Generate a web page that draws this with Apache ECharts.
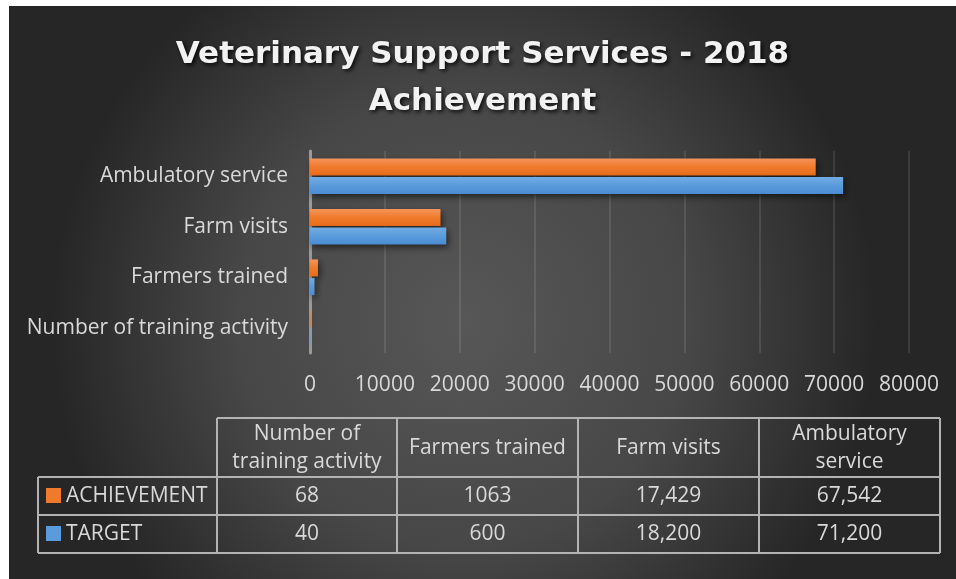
<!DOCTYPE html>
<html>
<head>
<meta charset="utf-8">
<script src="https://cdn.jsdelivr.net/npm/echarts@6/dist/echarts.min.js"></script>
<style>
html,body{margin:0;padding:0;background:#ffffff;width:956px;height:579px;overflow:hidden;}
#chart{position:absolute;left:9px;top:6px;width:947px;height:573px;}
</style>
</head>
<body>
<div id="chart"></div>
<script>
// ---- data ----
var categories = ['Number of training activity', 'Farmers trained', 'Farm visits', 'Ambulatory service'];
var tableHeaders = ['Number of\ntraining activity', 'Farmers trained', 'Farm visits', 'Ambulatory\nservice'];
var achievement = [68, 1063, 17429, 67542];
var target = [40, 600, 18200, 71200];
var seriesNames = ['ACHIEVEMENT', 'TARGET'];
var xTicks = [0, 10000, 20000, 30000, 40000, 50000, 60000, 70000, 80000];

// ---- styles ----
var FONT = 'Open Sans';
var TXT = '#d9d9d9';
var LINE = '#b3b3b3';
var ORANGE = { type: 'linear', x: 0, y: 0, x2: 0, y2: 1, colorStops: [{ offset: 0, color: '#f5955a' }, { offset: 0.5, color: '#f07a2b' }, { offset: 1, color: '#e86d1c' }] };
var BLUE = { type: 'linear', x: 0, y: 0, x2: 0, y2: 1, colorStops: [{ offset: 0, color: '#72abe2' }, { offset: 0.5, color: '#5a9bdb' }, { offset: 1, color: '#4a8cd3' }] };

function fmt(v) {
  return v >= 10000 ? v.toLocaleString('en-US') : String(v);
}

// table layout (container coords; container is offset by 9,6)
var colX = [29, 208, 388, 569, 750, 931];
var rowY = [412, 471, 509, 547];

var graphics = [];
function line(x1, y1, x2, y2) {
  graphics.push({ type: 'line', shape: { x1: x1, y1: y1, x2: x2, y2: y2 }, style: { stroke: LINE, lineWidth: 2 }, silent: true });
}
// horizontal lines
line(colX[1], rowY[0], colX[5], rowY[0]);
line(colX[0], rowY[1], colX[5], rowY[1]);
line(colX[0], rowY[2], colX[5], rowY[2]);
line(colX[0], rowY[3], colX[5], rowY[3]);
// vertical lines
line(colX[0], rowY[1], colX[0], rowY[3]);
for (var i = 1; i < colX.length; i++) line(colX[i], rowY[0], colX[i], rowY[3]);

function text(x, y, s, align) {
  graphics.push({ type: 'text', x: x, y: y, silent: true, style: { text: s, fill: TXT, font: '21px "' + FONT + '"', textAlign: align || 'center', textVerticalAlign: 'middle', lineHeight: 28 } });
}
for (var c = 0; c < 4; c++) {
  var cx = (colX[c + 1] + colX[c + 2]) / 2;
  text(cx, (rowY[0] + rowY[1]) / 2 + 1, tableHeaders[c]);
  text(cx, (rowY[1] + rowY[2]) / 2, fmt(achievement[c]));
  text(cx, (rowY[2] + rowY[3]) / 2, fmt(target[c]));
}
var keyColors = ['#f07a2b', '#5a9bdb'];
for (var r = 0; r < 2; r++) {
  var yc = (rowY[r + 1] + rowY[r + 2]) / 2;
  graphics.push({ type: 'rect', shape: { x: 37, y: yc - 8, width: 15, height: 15 }, style: { fill: keyColors[r] }, silent: true });
  text(57, yc, seriesNames[r], 'left');
}

var chart = echarts.init(document.getElementById('chart'), null, { renderer: 'canvas' });
chart.setOption({
  backgroundColor: { type: 'radial', x: 0.48, y: 0.55, r: 0.72, colorStops: [{ offset: 0, color: '#575757' }, { offset: 0.55, color: '#474747' }, { offset: 1, color: '#262626' }] },
  animation: false,
  title: {
    text: 'Veterinary Support Services - 2018\nAchievement',
    left: 'center',
    top: 20,
    textStyle: { color: '#f2f2f2', fontFamily: 'DejaVu Sans', fontWeight: 'bold', fontSize: 31, lineHeight: 47, textShadowColor: 'rgba(0,0,0,0.85)', textShadowBlur: 4, textShadowOffsetX: 2, textShadowOffsetY: 2 }
  },
  grid: { left: 301, top: 145, width: 599, height: 202, containLabel: false },
  xAxis: {
    type: 'value', min: xTicks[0], max: xTicks[xTicks.length - 1], interval: xTicks[1] - xTicks[0],
    axisLine: { show: false }, axisTick: { show: false },
    axisLabel: { color: TXT, fontFamily: FONT, fontSize: 21, margin: 22, formatter: function (v) { return String(v); } },
    splitLine: { show: true, lineStyle: { color: 'rgba(255,255,255,0.1)', width: 2 } }
  },
  yAxis: {
    type: 'category', data: categories,
    axisLine: { show: true, lineStyle: { color: '#9a9a9a', width: 3 } },
    axisTick: { show: false },
    axisLabel: { color: TXT, fontFamily: FONT, fontSize: 21, margin: 22 }
  },
  series: [
    { name: seriesNames[0], type: 'bar', data: achievement, barWidth: 17, barGap: '10%',
      itemStyle: { color: ORANGE, shadowColor: 'rgba(0,0,0,0.55)', shadowBlur: 6, shadowOffsetX: 2, shadowOffsetY: 3 } },
    { name: seriesNames[1], type: 'bar', data: target, barWidth: 17, barGap: '10%',
      itemStyle: { color: BLUE, shadowColor: 'rgba(0,0,0,0.55)', shadowBlur: 6, shadowOffsetX: 2, shadowOffsetY: 3 } }
  ],
  graphic: graphics
});
</script>
</body>
</html>
